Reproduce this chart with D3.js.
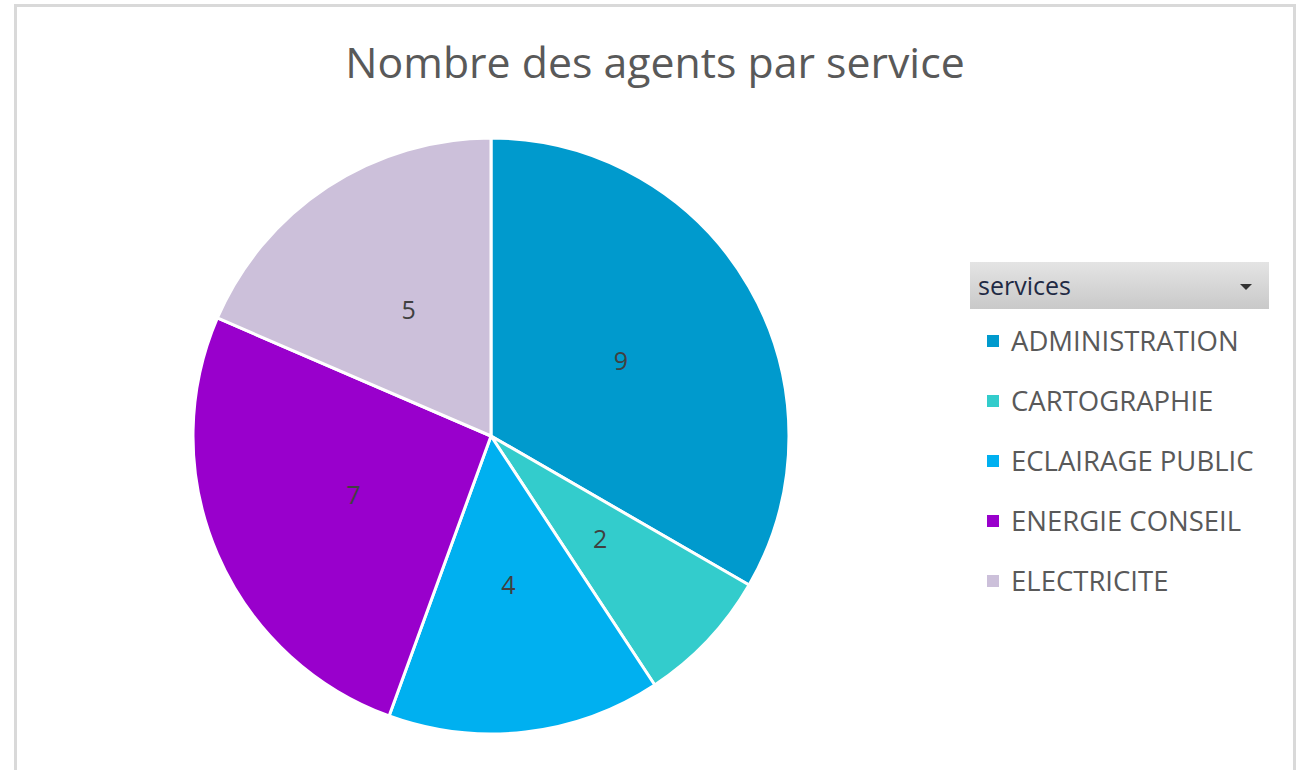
<!DOCTYPE html>
<html>
<head>
<meta charset="utf-8">
<script src="https://cdn.jsdelivr.net/npm/d3@7"></script>
<style>
  body { margin: 0; background: #fff; }
  svg { display: block; }
</style>
</head>
<body>
<div class="drawingArea"></div>
<script>
// data
var services = ["ADMINISTRATION", "CARTOGRAPHIE", "ECLAIRAGE PUBLIC", "ENERGIE CONSEIL", "ELECTRICITE"];
var agents = [9, 2, 4, 7, 5];
var colors = ["#009ACD", "#33CCCC", "#00B0F0", "#9900CC", "#CCC0DA"];

var width = 1301;
var height = 770;
var cx = 491, cy = 436, radius = 298;

var svg = d3.select(".drawingArea")
    .append("svg")
    .attr("width", width)
    .attr("height", height);

// frame
svg.append("rect")
    .attr("x", 15.5).attr("y", 5.5)
    .attr("width", 1279).attr("height", 800)
    .attr("fill", "#fff")
    .attr("stroke", "#d9d9d9")
    .attr("stroke-width", 3);

svg.append("text")
    .attr("x", 655).attr("y", 78)
    .attr("text-anchor", "middle")
    .attr("font-family", "Open Sans")
    .attr("font-size", 42.8)
    .attr("fill", "#595959")
    .text("Nombre des agents par service");

var pie = d3.pie().sort(null).value(function(d) { return d; });
var arc = d3.arc().innerRadius(0).outerRadius(radius);
var labelArc = d3.arc().innerRadius(150).outerRadius(150);

var g = svg.append("g").attr("transform", "translate(" + cx + "," + cy + ")");

var slices = g.selectAll("g.slice")
    .data(pie(agents))
    .enter()
    .append("g")
    .attr("class", "slice");

slices.append("path")
    .attr("d", arc)
    .attr("fill", function(d, i) { return colors[i]; })
    .attr("stroke", "#fff")
    .attr("stroke-width", 3)
    .attr("stroke-linejoin", "round");

slices.append("text")
    .attr("transform", function(d) { return "translate(" + labelArc.centroid(d) + ")"; })
    .attr("text-anchor", "middle")
    .attr("dy", "0.35em")
    .attr("font-family", "Open Sans")
    .attr("font-size", 25)
    .attr("fill", "#404040")
    .text(function(d) { return d.data; });

// legend header (pivot filter button)
var defs = svg.append("defs");
var grad = defs.append("linearGradient")
    .attr("id", "hdr").attr("x1", 0).attr("y1", 0).attr("x2", 0).attr("y2", 1);
grad.append("stop").attr("offset", "0%").attr("stop-color", "#e4e4e4");
grad.append("stop").attr("offset", "100%").attr("stop-color", "#c9c9c9");

var legend = svg.append("g").attr("transform", "translate(970,262)");
legend.append("rect")
    .attr("width", 299).attr("height", 47)
    .attr("fill", "url(#hdr)");
legend.append("text")
    .attr("x", 8).attr("y", 33)
    .attr("font-family", "Open Sans")
    .attr("font-size", 25)
    .attr("fill", "#1f2a44")
    .text("services");
legend.append("path")
    .attr("d", "M270,22 L282,22 L276,28 Z")
    .attr("fill", "#333");

var items = legend.selectAll("g.item")
    .data(services)
    .enter()
    .append("g")
    .attr("class", "item")
    .attr("transform", function(d, i) { return "translate(0," + (79 + i * 60) + ")"; });

items.append("rect")
    .attr("x", 17).attr("y", -6)
    .attr("width", 12).attr("height", 12)
    .attr("fill", function(d, i) { return colors[i]; });

items.append("text")
    .attr("x", 41).attr("y", 0)
    .attr("dy", "0.35em")
    .attr("font-family", "Open Sans")
    .attr("font-size", 27.5)
    .attr("fill", "#595959")
    .text(function(d) { return d; });
</script>
</body>
</html>
